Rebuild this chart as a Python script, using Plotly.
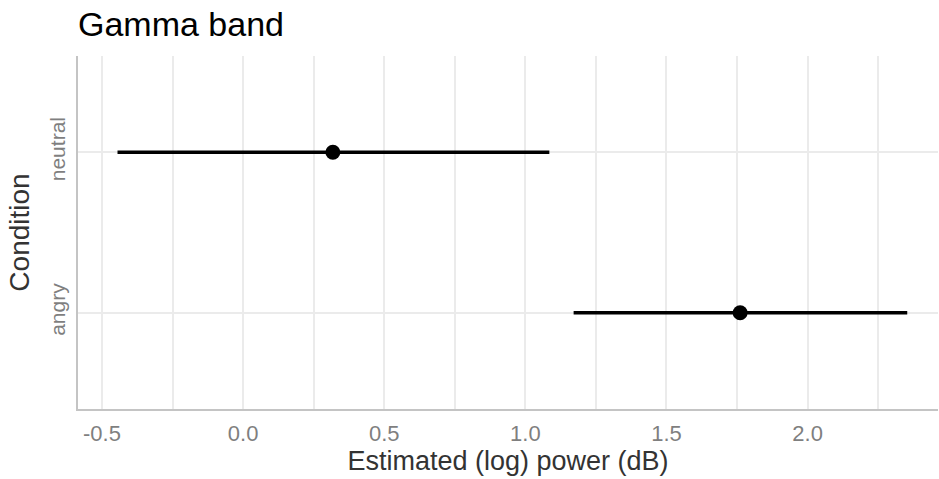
import plotly.graph_objects as go

# Estimated gamma-band power per condition, with interval bounds
conditions = ["neutral", "angry"]
estimates = [0.318, 1.761]
lower = [-0.445, 1.171]
upper = [1.085, 2.353]

err_plus = [u - e for u, e in zip(upper, estimates)]
err_minus = [e - l for e, l in zip(estimates, lower)]

font_family = "Liberation Sans, Arial, Helvetica, sans-serif"

fig = go.Figure()
fig.add_trace(go.Scatter(
    x=estimates,
    y=conditions,
    mode="markers",
    marker=dict(color="black", size=15),
    error_x=dict(
        type="data",
        symmetric=False,
        array=err_plus,
        arrayminus=err_minus,
        color="black",
        thickness=3.5,
        width=0,
    ),
    showlegend=False,
))

fig.update_layout(
    width=939,
    height=479,
    plot_bgcolor="white",
    paper_bgcolor="white",
    margin=dict(l=78, r=1, t=56, b=70),
    font=dict(family=font_family),
    title=dict(
        text="Gamma band",
        x=78 / 939,
        xanchor="left",
        xref="container",
        y=1 - 24 / 479,
        yref="container",
        yanchor="middle",
        font=dict(size=34, color="black", family=font_family),
    ),
    xaxis=dict(
        range=[-0.585, 2.462],
        tickvals=[-0.5, 0.0, 0.5, 1.0, 1.5, 2.0],
        ticktext=["-0.5", "0.0", "0.5", "1.0", "1.5", "2.0"],
        showgrid=True,
        gridcolor="#ebebeb",
        gridwidth=2,
        minor=dict(dtick=0.25, tick0=0, showgrid=True, gridcolor="#ebebeb", gridwidth=2),
        zeroline=False,
        showline=True,
        linecolor="#c4c4c4",
        linewidth=2,
        ticks="outside",
        ticklen=4,
        tickcolor="rgba(0,0,0,0)",
        tickfont=dict(size=22, color="#7f7f7f"),
        title=dict(text="Estimated (log) power (dB)", font=dict(size=27, color="#333333"), standoff=2),
    ),
    yaxis=dict(
        type="category",
        categoryorder="array",
        categoryarray=["angry", "neutral"],
        range=[-0.6, 1.6],
        showgrid=True,
        gridcolor="#ebebeb",
        gridwidth=2,
        zeroline=False,
        showline=True,
        linecolor="#c4c4c4",
        linewidth=2,
        ticks="outside",
        ticklen=3,
        tickcolor="rgba(0,0,0,0)",
        tickangle=-90,
        tickfont=dict(size=21, color="#7f7f7f"),
        title=dict(text="Condition", font=dict(size=28, color="#333333"), standoff=8),
    ),
)

fig.write_html("out.html")
